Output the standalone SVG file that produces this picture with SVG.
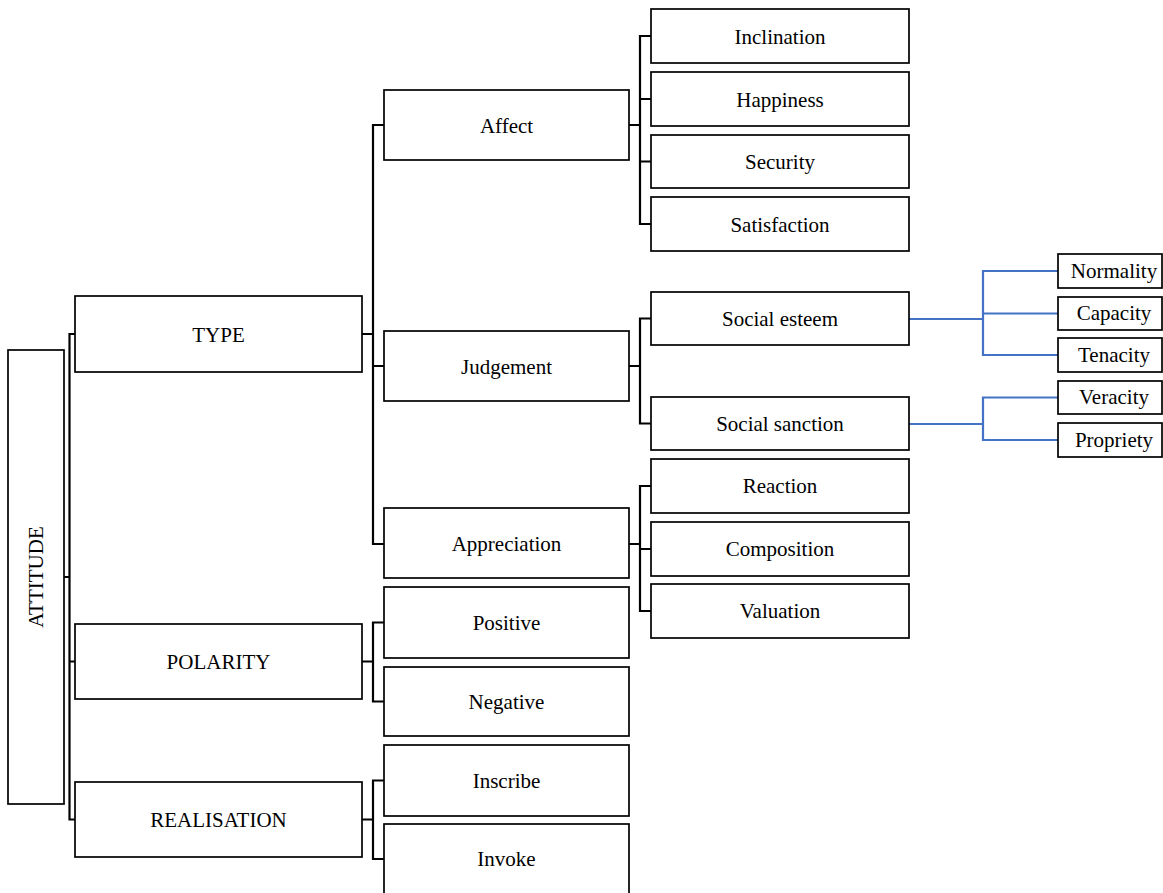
<svg xmlns="http://www.w3.org/2000/svg" width="1163" height="893" viewBox="0 0 1163 893">
<style>
.box{fill:#fff;stroke:#000;stroke-width:1.7}
.t{font-family:"Liberation Serif","Times New Roman",serif;font-size:21px;fill:#000;text-anchor:middle}
.c{fill:none;stroke:#000;stroke-width:2.2}
.b{fill:none;stroke:#4472C4;stroke-width:2.2}
</style>
<rect width="1163" height="893" fill="#fff"/>
<g id="connectors">
<path class="c" d="M64,577H69.5M75,334H69.5V819.5H75M69.5,661.5H75"/>
<path class="c" d="M362,334H373M384,125H373V544H384M373,366H384"/>
<path class="c" d="M362,661.5H373M384,622.5H373V701.5H384"/>
<path class="c" d="M362,819.5H373M384,780.5H373V859H384"/>
<path class="c" d="M629,125H640M651,36H640V224H651M640,99H651M640,161.5H651"/>
<path class="c" d="M629,366H640M651,318.5H640V423.5H651"/>
<path class="c" d="M629,544H640M651,486H640V611H651M640,549H651"/>
<path class="b" d="M909,319H983M1058,271H983V355H1058M983,313.5H1058"/>
<path class="b" d="M909,424H983M1058,397.5H983V440H1058"/>
</g>
<g id="attitude"><rect class="box" x="8" y="350" width="56" height="454"/><text class="t" transform="translate(43,577) rotate(-90)">ATTITUDE</text></g>
<g id="type"><rect class="box" x="75" y="296" width="287" height="76"/><text class="t" x="218.5" y="341.5">TYPE</text></g>
<g id="polarity"><rect class="box" x="75" y="624" width="287" height="75"/><text class="t" x="218.5" y="669">POLARITY</text></g>
<g id="realisation"><rect class="box" x="75" y="782" width="287" height="75"/><text class="t" x="218.5" y="827">REALISATION</text></g>
<g id="affect"><rect class="box" x="384" y="90" width="245" height="70"/><text class="t" x="506.5" y="132.5">Affect</text></g>
<g id="judgement"><rect class="box" x="384" y="331" width="245" height="70"/><text class="t" x="506.5" y="373.5">Judgement</text></g>
<g id="appreciation"><rect class="box" x="384" y="508" width="245" height="70"/><text class="t" x="506.5" y="550.5">Appreciation</text></g>
<g id="positive"><rect class="box" x="384" y="587" width="245" height="71"/><text class="t" x="506.5" y="629.5">Positive</text></g>
<g id="negative"><rect class="box" x="384" y="667" width="245" height="69"/><text class="t" x="506.5" y="708.5">Negative</text></g>
<g id="inscribe"><rect class="box" x="384" y="745" width="245" height="71"/><text class="t" x="506.5" y="787.5">Inscribe</text></g>
<g id="invoke"><rect class="box" x="384" y="824" width="245" height="71"/><text class="t" x="506.5" y="866">Invoke</text></g>
<g id="inclination"><rect class="box" x="651" y="9" width="258" height="54"/><text class="t" x="780" y="43.5">Inclination</text></g>
<g id="happiness"><rect class="box" x="651" y="72" width="258" height="54"/><text class="t" x="780" y="106.5">Happiness</text></g>
<g id="security"><rect class="box" x="651" y="135" width="258" height="53"/><text class="t" x="780" y="168.5">Security</text></g>
<g id="satisfaction"><rect class="box" x="651" y="197" width="258" height="54"/><text class="t" x="780" y="231.5">Satisfaction</text></g>
<g id="social-esteem"><rect class="box" x="651" y="292" width="258" height="53"/><text class="t" x="780" y="325.5">Social esteem</text></g>
<g id="social-sanction"><rect class="box" x="651" y="397" width="258" height="53"/><text class="t" x="780" y="430.5">Social sanction</text></g>
<g id="reaction"><rect class="box" x="651" y="459" width="258" height="54"/><text class="t" x="780" y="493">Reaction</text></g>
<g id="composition"><rect class="box" x="651" y="522" width="258" height="54"/><text class="t" x="780" y="556">Composition</text></g>
<g id="valuation"><rect class="box" x="651" y="584" width="258" height="54"/><text class="t" x="780" y="618">Valuation</text></g>
<g id="normality"><rect class="box" x="1058" y="254" width="104" height="34"/><text class="t" x="1114" y="277.5">Normality</text></g>
<g id="capacity"><rect class="box" x="1058" y="297" width="104" height="33"/><text class="t" x="1114" y="320">Capacity</text></g>
<g id="tenacity"><rect class="box" x="1058" y="338" width="104" height="34"/><text class="t" x="1114" y="361.5">Tenacity</text></g>
<g id="veracity"><rect class="box" x="1058" y="381" width="104" height="33"/><text class="t" x="1114" y="404">Veracity</text></g>
<g id="propriety"><rect class="box" x="1058" y="423" width="104" height="34"/><text class="t" x="1114" y="446.5">Propriety</text></g>
</svg>
